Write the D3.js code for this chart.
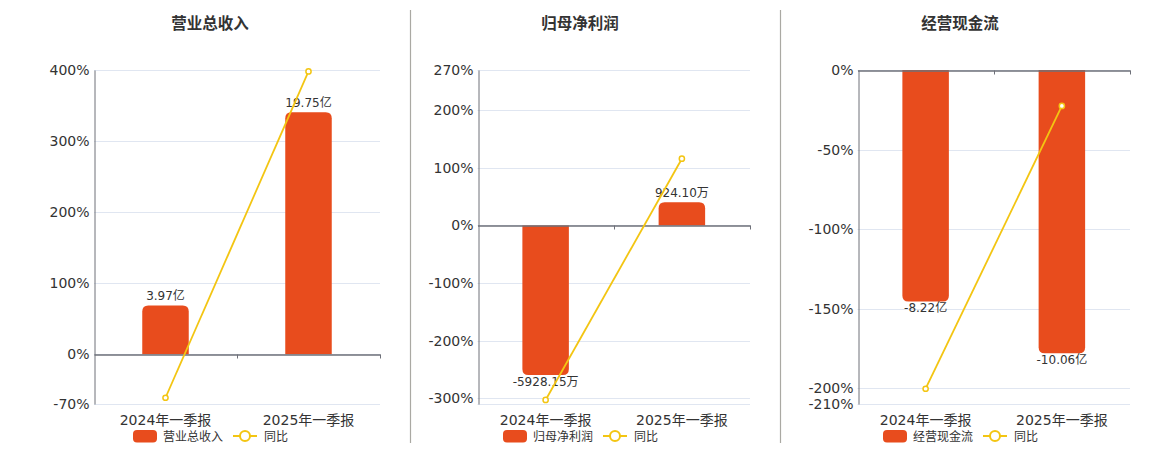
<!DOCTYPE html>
<html>
<head>
<meta charset="utf-8">
<script src="https://cdn.jsdelivr.net/npm/d3@7"></script>
<style>
  body { margin: 0; background: #fff; }
  svg { display: block; font-family: "DejaVu Sans", "Noto Sans CJK SC", sans-serif; }
</style>
</head>
<body>
<div id="chart"></div>
<script>
// categories shared by all three panels
const categories = ["2024年一季报", "2025年一季报"];

// 营业总收入 (亿)
const revenueValues = [3.97, 19.75];
const revenueLabels = ["3.97亿", "19.75亿"];
const revenueYoy = [-61.2, 398];
const revenueTicks = [400, 300, 200, 100, 0, -70];
const revenueDomain = [-70, 400];
const revenueBarDomain = [-4.06, 23.2];

// 归母净利润 (万)
const profitValues = [-5928.15, 924.1];
const profitLabels = ["-5928.15万", "924.10万"];
const profitYoy = [-303, 116];
const profitTicks = [270, 200, 100, 0, -100, -200, -300];
const profitDomain = [-310, 270];
const profitBarDomain = [-7077, 6164];

// 经营现金流 (亿)
const cashValues = [-8.22, -10.06];
const cashLabels = ["-8.22亿", "-10.06亿"];
const cashYoy = [-200.4, -22.6];
const cashTicks = [0, -50, -100, -150, -200, -210];
const cashDomain = [-210, 0];
const cashBarDomain = [-11.86, 0];

const panels = [
  { title: "营业总收入", values: revenueValues, labels: revenueLabels, yoy: revenueYoy,
    ticks: revenueTicks, domain: revenueDomain, barDomain: revenueBarDomain,
    left: 94, right: 380, center: 210 },
  { title: "归母净利润", values: profitValues, labels: profitLabels, yoy: profitYoy,
    ticks: profitTicks, domain: profitDomain, barDomain: profitBarDomain,
    left: 477.5, right: 750, center: 580 },
  { title: "经营现金流", values: cashValues, labels: cashLabels, yoy: cashYoy,
    ticks: cashTicks, domain: cashDomain, barDomain: cashBarDomain,
    left: 857.5, right: 1130, center: 960 }
];

const barColor = "#e84c1d";
const lineColor = "#f3c512";
const plotTop = 70, plotBottom = 404;

const svg = d3.select("#chart")
  .append("svg")
  .attr("width", 1160)
  .attr("height", 450);

// separators between panels
[410.5, 780.5].forEach(x => {
  svg.append("line")
    .attr("x1", x).attr("x2", x)
    .attr("y1", 10).attr("y2", 443)
    .attr("stroke", "#aaa9a3")
    .attr("stroke-width", 1.2);
});

// bar with rounded far end
function barPath(x, w, y0, y1, r) {
  const h = Math.abs(y1 - y0);
  r = Math.min(r, h / 2, w / 2);
  if (y1 <= y0) {
    return `M${x},${y0} V${y1 + r} Q${x},${y1} ${x + r},${y1} H${x + w - r} Q${x + w},${y1} ${x + w},${y1 + r} V${y0} Z`;
  }
  return `M${x},${y0} V${y1 - r} Q${x},${y1} ${x + r},${y1} H${x + w - r} Q${x + w},${y1} ${x + w},${y1 - r} V${y0} Z`;
}

panels.forEach(p => {
  const g = svg.append("g");

  const x = d3.scaleBand()
    .domain(categories)
    .range([p.left, p.right]);

  const y = d3.scaleLinear().domain(p.domain).range([plotBottom, plotTop]);
  const yBar = d3.scaleLinear().domain(p.barDomain).range([plotBottom, plotTop]);

  // title
  g.append("text")
    .attr("x", p.center)
    .attr("y", 29)
    .attr("text-anchor", "middle")
    .attr("font-size", 15.5)
    .attr("font-weight", "bold")
    .attr("fill", "#333")
    .text(p.title);

  // gridlines
  g.selectAll(".grid")
    .data(p.domain.concat(p.ticks).filter((d, i, a) => a.indexOf(d) === i))
    .enter()
    .append("line")
    .attr("x1", p.left).attr("x2", p.right)
    .attr("y1", d => Math.round(y(d)) + 0.5)
    .attr("y2", d => Math.round(y(d)) + 0.5)
    .attr("stroke", "#e0e6f1");

  // y axis
  const yAxis = d3.axisLeft(y)
    .tickValues(p.ticks)
    .tickSize(0)
    .tickPadding(5)
    .tickFormat(d => d + "%");
  const yAxisGroup = g.append("g")
    .attr("transform", `translate(${Math.round(p.left) + 0.5},0)`)
    .call(yAxis);
  yAxisGroup.select(".domain").attr("stroke", "#6e7079");
  yAxisGroup.selectAll("text")
    .attr("font-size", 14)
    .attr("fill", "#333")
    .attr("font-family", "DejaVu Sans, sans-serif");

  // bars
  const bw = 46.5;
  g.selectAll(".bar")
    .data(p.values)
    .enter()
    .append("path")
    .attr("d", (d, i) => barPath(
      x(categories[i]) + x.bandwidth() / 2 - bw / 2, bw, yBar(0), yBar(d), 6))
    .attr("fill", barColor);

  // bar labels
  g.selectAll(".barlabel")
    .data(p.values)
    .enter()
    .append("text")
    .attr("x", (d, i) => x(categories[i]) + x.bandwidth() / 2)
    .attr("y", d => d >= 0 ? yBar(d) - 5.5 : yBar(d) + 10.5)
    .attr("text-anchor", "middle")
    .attr("font-size", 12)
    .attr("fill", "#333")
    .text((d, i) => p.labels[i]);

  // x axis at zero
  const xAxisGroup = g.append("g")
    .attr("transform", `translate(0,${Math.round(y(0)) + 0.5})`)
    .call(d3.axisBottom(x).tickSize(0).tickFormat(""));
  xAxisGroup.select(".domain").attr("stroke", "#6e7079").attr("stroke-width", 1.5);
  [p.left + x.bandwidth(), p.right].forEach(tx => {
    xAxisGroup.append("line")
      .attr("x1", Math.round(tx) + 0.5).attr("x2", Math.round(tx) + 0.5)
      .attr("y1", 0).attr("y2", 4)
      .attr("stroke", "#6e7079");
  });

  // category labels along the bottom
  g.selectAll(".xlabel")
    .data(categories)
    .enter()
    .append("text")
    .attr("x", d => x(d) + x.bandwidth() / 2)
    .attr("y", 425)
    .attr("text-anchor", "middle")
    .attr("font-size", 14)
    .attr("fill", "#333")
    .text(d => d);

  // 同比 line
  const line = d3.line()
    .x((d, i) => x(categories[i]) + x.bandwidth() / 2)
    .y(d => y(d));
  g.append("path")
    .datum(p.yoy)
    .attr("d", line)
    .attr("fill", "none")
    .attr("stroke", lineColor)
    .attr("stroke-width", 1.8);
  g.selectAll(".dot")
    .data(p.yoy)
    .enter()
    .append("circle")
    .attr("cx", (d, i) => x(categories[i]) + x.bandwidth() / 2)
    .attr("cy", d => y(d))
    .attr("r", 2.6)
    .attr("fill", "#fff")
    .attr("stroke", lineColor)
    .attr("stroke-width", 1.5);

  // legend
  const lg = g.append("g").attr("transform", `translate(${p.center - 77},0)`);
  lg.append("rect")
    .attr("x", 0).attr("y", 430)
    .attr("width", 24).attr("height", 12.5)
    .attr("rx", 4)
    .attr("fill", barColor);
  lg.append("text")
    .attr("x", 30).attr("y", 441)
    .attr("font-size", 12)
    .attr("fill", "#333")
    .text(p.title);
  lg.append("line")
    .attr("x1", 100).attr("x2", 124)
    .attr("y1", 436).attr("y2", 436)
    .attr("stroke", lineColor)
    .attr("stroke-width", 2);
  lg.append("circle")
    .attr("cx", 112).attr("cy", 436)
    .attr("r", 5)
    .attr("fill", "#fff")
    .attr("stroke", lineColor)
    .attr("stroke-width", 2);
  lg.append("text")
    .attr("x", 131).attr("y", 441)
    .attr("font-size", 12)
    .attr("fill", "#333")
    .text("同比");
});
</script>
</body>
</html>
